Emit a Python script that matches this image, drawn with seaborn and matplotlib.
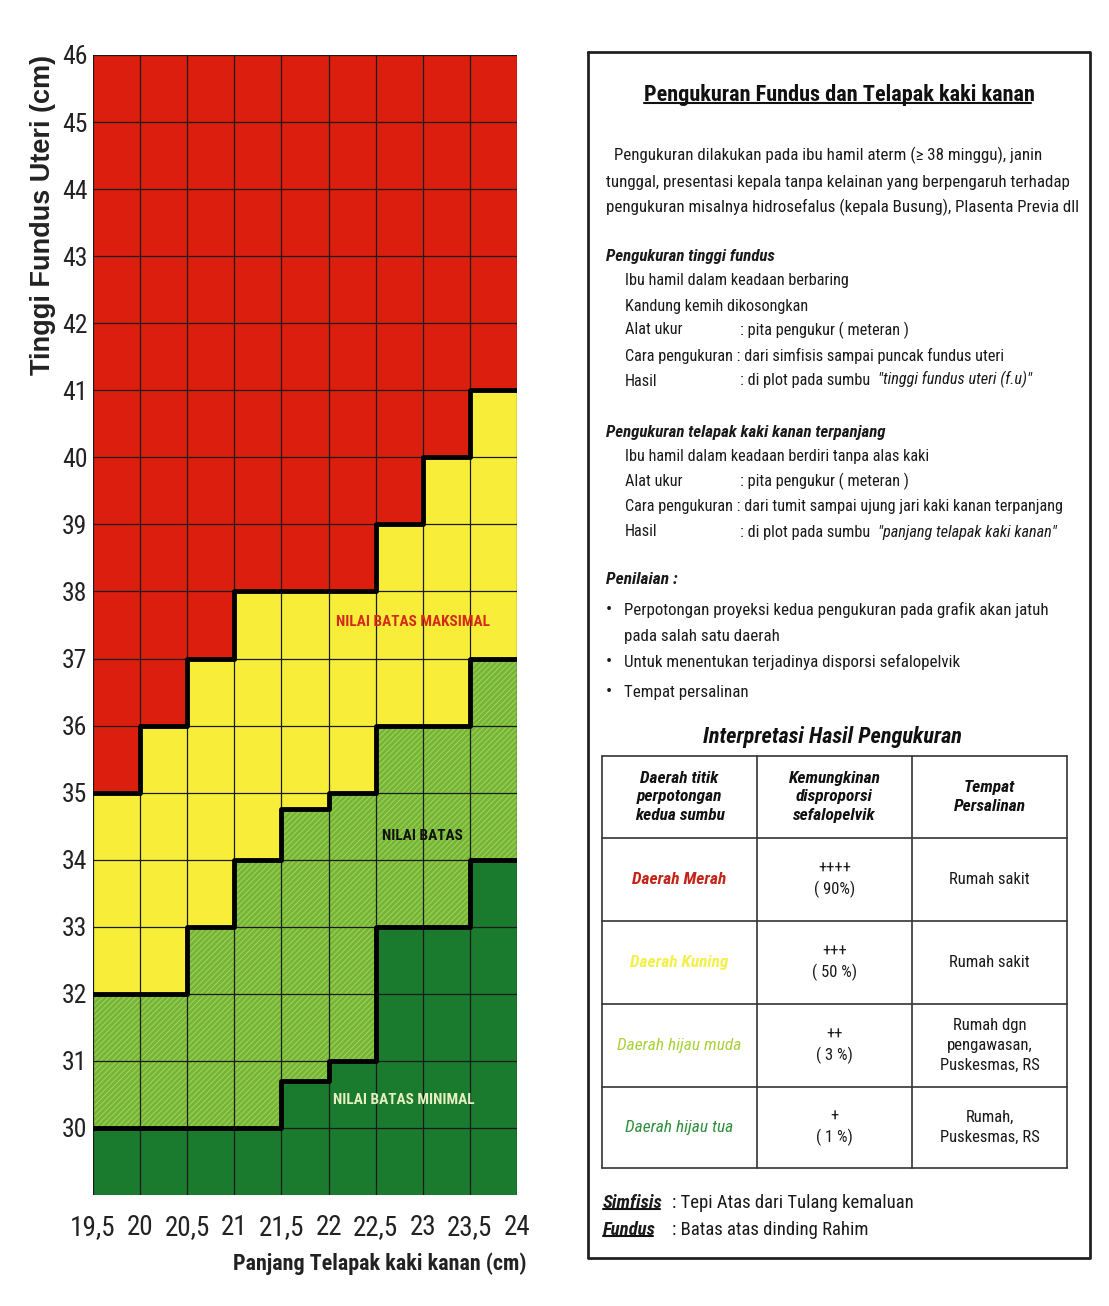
import matplotlib
matplotlib.use('Agg')
import matplotlib.pyplot as plt
from matplotlib import font_manager
import pandas as pd
import seaborn as sns

# data grafik
panjang_kaki = [19.5, 20, 20.5, 21, 21.5, 22, 22.5, 23, 23.5, 24]
label_panjang = ['19,5', '20', '20,5', '21', '21,5', '22', '22,5', '23', '23,5', '24']
tinggi_fundus = list(range(30, 47))
batas_maksimal = [35, 36, 37, 38, 38, 38, 39, 40, 41]
nilai_batas = [32, 32, 33, 34, 34.75, 35, 36, 36, 37]
batas_minimal = [30, 30, 30, 30, 30.7, 31, 33, 33, 34]
y_bawah, y_atas = 29, 46

# data tabel interpretasi
kolom_tabel = ['Daerah titik\nperpotongan\nkedua sumbu', 'Kemungkinan\ndisproporsi\nsefalopelvik', 'Tempat\nPersalinan']
daerah = ['Daerah Merah', 'Daerah Kuning', 'Daerah hijau muda', 'Daerah hijau tua']
kemungkinan = ['++++\n( 90%)', '+++\n( 50 %)', '++\n( 3 %)', '+\n( 1 %)']
tempat = ['Rumah sakit', 'Rumah sakit', 'Rumah dgn\npengawasan,\nPuskesmas, RS', 'Rumah,\nPuskesmas, RS']

MERAH, KUNING, HIJAU_MUDA, HIJAU_TUA = '#dc1e0f', '#f8ee3a', '#74b53a', '#1a7a2e'
warna_daerah = ['#c42318', '#f2f04a', '#a9d13a', '#2f8f3c']

sns.set_theme(style='white')
nama_font = {f.name for f in font_manager.fontManager.ttflist}
SEMPIT = next((n for n in ['Liberation Sans Narrow', 'Roboto Condensed', 'Arial Narrow', 'Liberation Sans']
               if n in nama_font), 'DejaVu Sans')
plt.rcParams['font.family'] = [SEMPIT, 'DejaVu Sans']
plt.rcParams['hatch.linewidth'] = 0.7

fig = plt.figure(figsize=(11.09, 13.06), dpi=100)
ax = fig.add_axes([93 / 1109, 1 - 1195 / 1306, 424 / 1109, 1140 / 1306])

# zona warna
ax.stairs([y_atas] * len(batas_maksimal), panjang_kaki, baseline=batas_maksimal, fill=True, color=MERAH, lw=0)
ax.stairs(batas_maksimal, panjang_kaki, baseline=nilai_batas, fill=True, color=KUNING, lw=0)
ax.stairs(nilai_batas, panjang_kaki, baseline=batas_minimal, fill=True, facecolor=HIJAU_MUDA,
          edgecolor='#a6d552', hatch='//////', lw=0)
ax.stairs(batas_minimal, panjang_kaki, baseline=y_bawah, fill=True, color=HIJAU_TUA, lw=0)

# garis batas tebal
batas_df = pd.concat([
    pd.DataFrame({'panjang': panjang_kaki, 'tinggi': v + v[-1:], 'garis': n})
    for n, v in [('maksimal', batas_maksimal), ('batas', nilai_batas), ('minimal', batas_minimal)]
])
sns.lineplot(data=batas_df, x='panjang', y='tinggi', units='garis', estimator=None, sort=False,
             drawstyle='steps-post', color='black', linewidth=3.5, ax=ax, zorder=4, legend=False)

ax.set_xlim(panjang_kaki[0], panjang_kaki[-1])
ax.set_ylim(y_bawah, y_atas)
ax.set_xticks(panjang_kaki, label_panjang)
ax.set_yticks(tinggi_fundus)
ax.grid(True, color='#1a1a1a', linewidth=0.9)
ax.set_axisbelow(False)
ax.tick_params(axis='x', length=0, pad=14, labelsize=19.5, labelcolor='#222')
ax.tick_params(axis='y', length=0, pad=4, labelsize=18.5, labelcolor='#222')
for s in ax.spines.values():
    s.set_visible(False)

ax.set_xlabel('Panjang Telapak kaki kanan (cm)', fontsize=15.8, fontweight='bold', color='#222')
ax.xaxis.set_label_coords(0.677, -0.05)
ax.set_ylabel('Tinggi Fundus Uteri (cm)', fontsize=19.5, fontweight='bold', color='#222',
              family=['Liberation Sans', 'DejaVu Sans'])
ax.yaxis.set_label_coords(-0.088, 0.86)

ax.text(22.9, 37.55, 'NILAI BATAS MAKSIMAL', ha='center', va='center', fontsize=11,
        fontweight='bold', color='#d42a1a', zorder=5)
ax.text(23.0, 34.35, 'NILAI BATAS', ha='center', va='center', fontsize=11,
        fontweight='bold', color='#111', zorder=5)
ax.text(22.8, 30.42, 'NILAI BATAS MINIMAL', ha='center', va='center', fontsize=11,
        fontweight='bold', color='#e6efc4', zorder=5)

# panel keterangan (koordinat piksel)
ov = fig.add_axes([0, 0, 1, 1])
ov.set_xlim(0, 1109)
ov.set_ylim(1306, 0)
ov.axis('off')

ov.plot([588, 1090, 1090, 588, 588], [52, 52, 1258, 1258, 52], color='#222', lw=2)

judul = ov.text(839, 95, 'Pengukuran Fundus dan Telapak kaki kanan', ha='center', va='center',
                fontsize=16, fontweight='bold', color='#111')

fs = 11.7
def tulis(x, y, s, **kw):
    kw.setdefault('fontsize', fs)
    kw.setdefault('color', '#1a1a1a')
    return ov.text(x, y, s, ha='left', va='center', **kw)

tulis(614, 155, 'Pengukuran dilakukan pada ibu hamil aterm (\u2265 38 minggu), janin', fontsize=12.2)
tulis(606, 182, 'tunggal, presentasi kepala tanpa kelainan yang berpengaruh terhadap', fontsize=12.2)
tulis(606, 207, 'pengukuran misalnya hidrosefalus (kepala Busung), Plasenta Previa dll', fontsize=12.2)

tulis(606, 256, 'Pengukuran tinggi fundus', fontweight='bold', style='italic', fontsize=12.2)
tulis(625, 281, 'Ibu hamil dalam keadaan berbaring')
tulis(625, 306, 'Kandung kemih dikosongkan')
tulis(625, 330, 'Alat ukur')
tulis(740, 330, ': pita pengukur ( meteran )')
tulis(625, 356, 'Cara pengukuran : dari simfisis sampai puncak fundus uteri')
tulis(625, 381, 'Hasil')
h1 = tulis(740, 381, ': di plot pada sumbu ')
ov.annotate('"tinggi fundus uteri (f.u)"', xy=(1, 0), xycoords=h1, xytext=(3, 0), textcoords='offset points',
            ha='left', va='bottom', fontsize=fs, style='italic', color='#1a1a1a')

tulis(606, 432, 'Pengukuran telapak kaki kanan terpanjang', fontweight='bold', style='italic', fontsize=12.2)
tulis(625, 457, 'Ibu hamil dalam keadaan berdiri tanpa alas kaki')
tulis(625, 481, 'Alat ukur')
tulis(740, 481, ': pita pengukur ( meteran )')
tulis(625, 507, 'Cara pengukuran : dari tumit sampai ujung jari kaki kanan terpanjang')
tulis(625, 532, 'Hasil')
h2 = tulis(740, 532, ': di plot pada sumbu ')
ov.annotate('"panjang telapak kaki kanan"', xy=(1, 0), xycoords=h2, xytext=(3, 0), textcoords='offset points',
            ha='left', va='bottom', fontsize=fs, style='italic', color='#1a1a1a')

tulis(606, 580, 'Penilaian :', fontweight='bold', style='italic', fontsize=12.5)
for y, s in [(610, 'Perpotongan proyeksi kedua pengukuran pada grafik akan jatuh'),
             (662, 'Untuk menentukan terjadinya disporsi sefalopelvik'),
             (692, 'Tempat persalinan')]:
    tulis(606, y, '\u2022', fontsize=13)
    tulis(624, y, s, fontsize=12.2)
tulis(624, 636, 'pada salah satu daerah', fontsize=12.2)

ov.text(832, 737, 'Interpretasi Hasil Pengukuran', ha='center', va='center', fontsize=16,
        fontweight='bold', style='italic', color='#111')

# tabel
kol_x = [602, 757, 912, 1067]
baris_y = [756, 838, 921, 1004, 1087, 1168]
for x in kol_x:
    ov.plot([x, x], [baris_y[0], baris_y[-1]], color='#333', lw=1.2)
for y in baris_y:
    ov.plot([kol_x[0], kol_x[-1]], [y, y], color='#333', lw=1.2)

pusat_x = [(a + b) / 2 for a, b in zip(kol_x[:-1], kol_x[1:])]
for cx, s in zip(pusat_x, kolom_tabel):
    ov.text(cx, (baris_y[0] + baris_y[1]) / 2, s, ha='center', va='center', fontsize=12.5,
            fontweight='bold', style='italic', linespacing=1.3, color='#111')
for i in range(len(daerah)):
    cy = (baris_y[i + 1] + baris_y[i + 2]) / 2
    tebal = 'bold' if i < 2 else 'normal'
    ov.text(pusat_x[0], cy, daerah[i], ha='center', va='center', fontsize=12.5, style='italic',
            fontweight=tebal, color=warna_daerah[i])
    ov.text(pusat_x[1], cy, kemungkinan[i], ha='center', va='center', fontsize=12, linespacing=1.4,
            color='#1a1a1a')
    ov.text(pusat_x[2], cy, tempat[i], ha='center', va='center', fontsize=12, linespacing=1.4,
            color='#1a1a1a')

sim = tulis(603, 1203, 'Simfisis', fontweight='bold', style='italic', fontsize=13.5)
tulis(672, 1203, ': Tepi Atas dari Tulang kemaluan', fontsize=13.5)
fun = tulis(603, 1230, 'Fundus', fontweight='bold', style='italic', fontsize=13.5)
tulis(672, 1230, ': Batas atas dinding Rahim', fontsize=13.5)

# garis bawah judul & istilah
fig.canvas.draw()
inv = ov.transData.inverted()
for t, dy in [(judul, 3), (sim, 3), (fun, 3)]:
    bb = t.get_window_extent()
    (x0, y0), (x1, _) = inv.transform([(bb.x0, bb.y0), (bb.x1 - 3, bb.y0)])
    ov.plot([x0, x1], [y0 - dy, y0 - dy], color='#111', lw=1.5)

fig.savefig('out.png', dpi=100, facecolor='white')
